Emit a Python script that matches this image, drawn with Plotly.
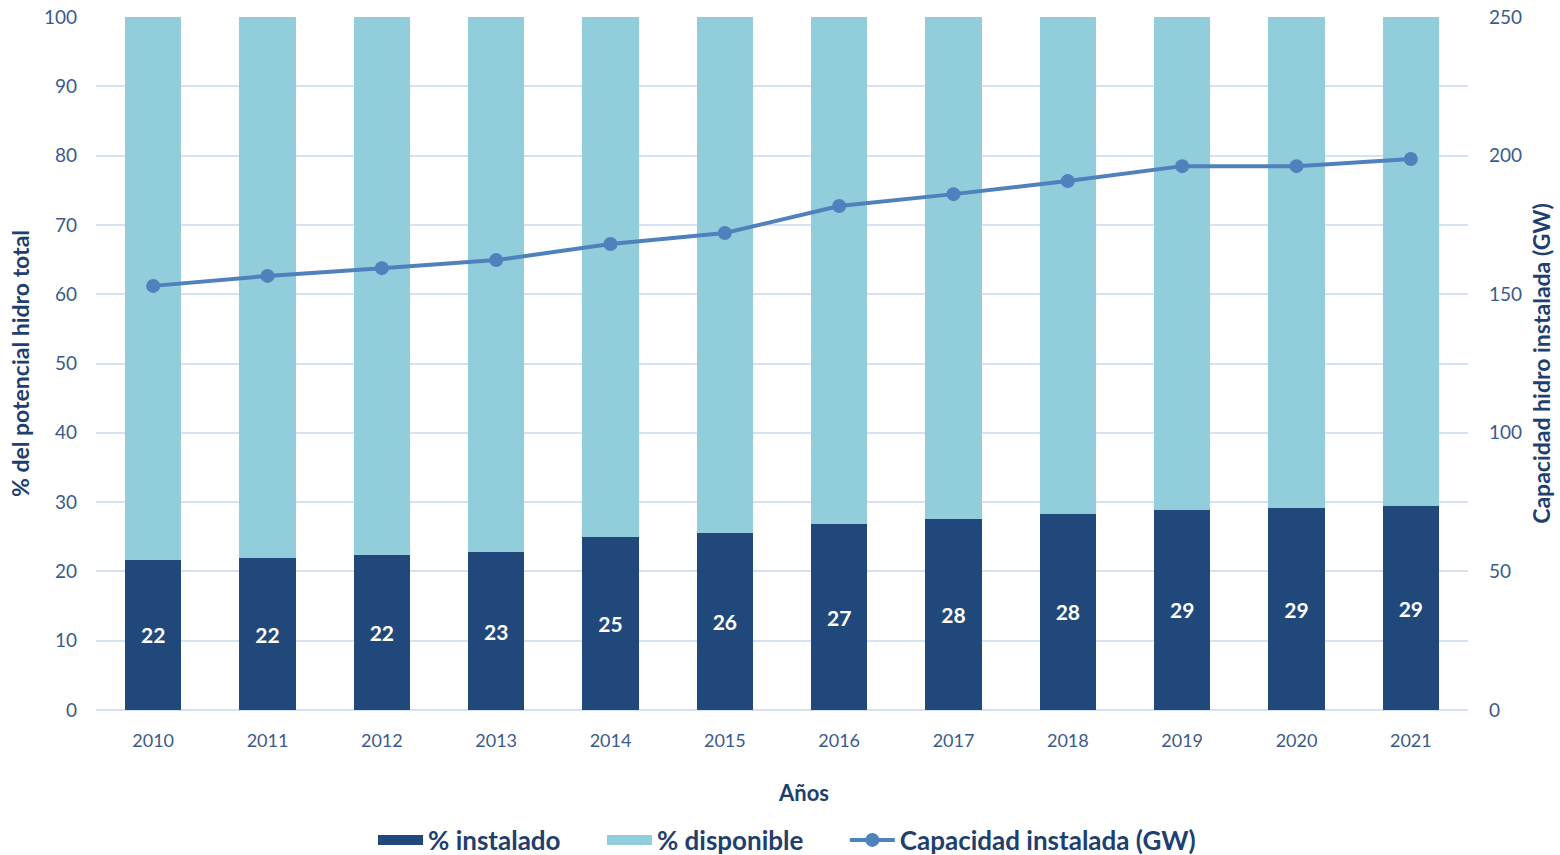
import plotly.graph_objects as go

years = ["2010", "2011", "2012", "2013", "2014", "2015", "2016", "2017", "2018", "2019", "2020", "2021"]
pct_instalado = [21.7, 21.9, 22.4, 22.8, 25.0, 25.6, 26.8, 27.5, 28.3, 28.9, 29.1, 29.4]
pct_disponible = [round(100 - v, 1) for v in pct_instalado]
capacidad_gw = [153.0, 156.6, 159.4, 162.3, 168.1, 172.1, 181.8, 186.1, 190.8, 196.2, 196.2, 198.8]
instalado_labels = ["22", "22", "22", "23", "25", "26", "27", "28", "28", "29", "29", "29"]

FONT = "Lato"
DARK = "#21487A"
LIGHT = "#92CDDC"
LINE = "#4F81BD"
TICK = "#3B5A8C"
TITLE = "#1F3F6F"
GRID = "#D6E2F2"
# transparent trailing filler that widens the gap after a legend entry
PAD = "<span style='color:rgba(0,0,0,0)'>___</span>"

fig = go.Figure()

fig.add_trace(go.Bar(
    x=years, y=pct_instalado, name="% instalado", showlegend=False,
    marker=dict(color=DARK, line=dict(width=0)),
    text=instalado_labels, textposition="inside", insidetextanchor="middle",
    textfont=dict(family=FONT, size=21, color="white", weight="bold"),
    textangle=0,
))
fig.add_trace(go.Bar(
    x=years, y=pct_disponible, name="% disponible", showlegend=False,
    marker=dict(color=LIGHT, line=dict(width=0)),
))

# Wide rectangular legend keys for the two bar series
fig.add_trace(go.Scatter(
    x=[None], y=[None], name="% instalado" + PAD, mode="lines",
    line=dict(color=DARK, width=15), hoverinfo="skip",
))
fig.add_trace(go.Scatter(
    x=[None], y=[None], name="% disponible" + PAD, mode="lines",
    line=dict(color=LIGHT, width=15), hoverinfo="skip",
))

fig.add_trace(go.Scatter(
    x=years, y=capacidad_gw, name="Capacidad instalada (GW)", yaxis="y2",
    mode="lines+markers",
    line=dict(color=LINE, width=4),
    marker=dict(color=LINE, size=14),
))

fig.update_layout(
    width=1560, height=855,
    margin=dict(l=96, r=92, t=17, b=145, autoexpand=False),
    paper_bgcolor="white", plot_bgcolor="white",
    barmode="stack", bargap=0.51,
    font=dict(family=FONT, color=TICK),
    xaxis=dict(
        range=[-0.5, 11.5], automargin=False,
        tickfont=dict(size=18, color=TICK), showgrid=False, ticks="", showline=False,
        ticklabelstandoff=18,
    ),
    yaxis=dict(
        title=dict(text="<b>% del potencial hidro total</b>", font=dict(size=23, color=TITLE, family=FONT), standoff=7),
        range=[0, 100], dtick=10, tickfont=dict(size=19, color=TICK), automargin=False,
        gridcolor=GRID, gridwidth=2, zeroline=True, zerolinecolor=GRID, zerolinewidth=2,
        ticklabelstandoff=18,
    ),
    yaxis2=dict(
        title=dict(text="<b>Capacidad hidro instalada (GW)</b>", font=dict(size=23, color=TITLE, family=FONT), standoff=12),
        range=[0, 250], dtick=50, overlaying="y", side="right", showgrid=False,
        tickfont=dict(size=19, color=TICK), zeroline=False, automargin=False,
        ticklabelstandoff=20,
    ),
    legend=dict(
        orientation="h", x=(787 - 96) / 1372, xanchor="center", y=-0.1876, yanchor="middle",
        font=dict(size=26, color=TITLE, family=FONT, weight="bold"),
        itemwidth=45, traceorder="normal",
    ),
    annotations=[dict(
        text="<b>Años</b>", xref="paper", yref="paper",
        x=(803 - 96) / 1372, y=-(792 - 710) / 693, xanchor="center", yanchor="middle",
        showarrow=False, font=dict(size=22, color=TITLE, family=FONT),
    )],
)

fig.write_html("out.html")
